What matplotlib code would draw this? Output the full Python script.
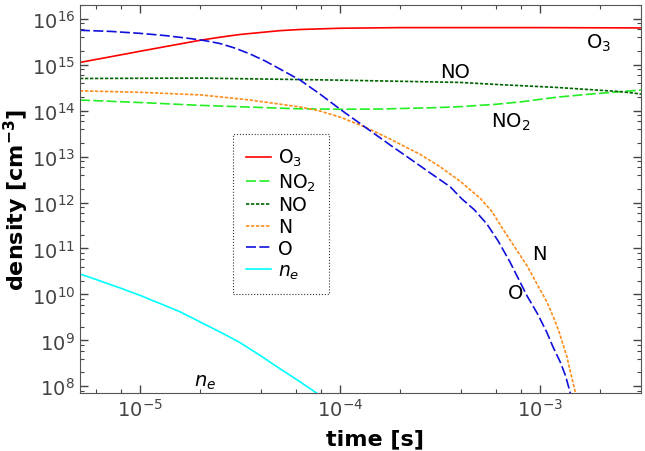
import matplotlib
matplotlib.use("Agg")
import matplotlib.pyplot as plt
from matplotlib.ticker import LogLocator, NullFormatter

# ---- data ----
t_O3 = [5e-6, 7.08e-6, 1e-5, 1.41e-5, 2e-5, 2.51e-5, 3.16e-5, 3.98e-5, 5.01e-5, 6.31e-5,
        1e-4, 2e-4, 1e-3, 3.2e-3]
n_O3 = [1.12e15, 1.48e15, 1.96e15, 2.58e15, 3.4e15, 3.96e15, 4.54e15, 5.0e15, 5.5e15, 5.83e15,
        6.2e15, 6.4e15, 6.4e15, 6.3e15]

t_NO2 = [5e-6, 1e-5, 2e-5, 4e-5, 6e-5, 1e-4, 1.5e-4, 2e-4, 3e-4, 4e-4, 6.1e-4, 8e-4,
         1.2e-3, 1.8e-3, 2.5e-3, 3.2e-3]
n_NO2 = [1.7e14, 1.5e14, 1.3e14, 1.17e14, 1.1e14, 1.07e14, 1.08e14, 1.11e14, 1.16e14, 1.22e14,
         1.38e14, 1.55e14, 1.95e14, 2.3e14, 2.57e14, 2.8e14]

t_NO = [5e-6, 2e-5, 1e-4, 4e-4, 6.1e-4, 1.2e-3, 2.5e-3, 3.2e-3]
n_NO = [5.0e14, 5.1e14, 4.6e14, 4.1e14, 3.7e14, 3.2e14, 2.6e14, 2.3e14]

t_N = [5e-6, 1e-5, 2e-5, 3.55e-5, 6.31e-5, 7.94e-5, 1e-4, 1.33e-4, 1.78e-4, 2.51e-4,
       3.16e-4, 3.98e-4, 5.01e-4, 5.75e-4, 6.53e-4, 8.6e-4, 1.08e-3, 1.18e-3, 1.24e-3,
       1.3e-3, 1.36e-3, 1.42e-3, 1.5e-3, 1.55e-3]
n_N = [2.7e14, 2.5e14, 2.2e14, 1.7e14, 1.2e14, 9.8e13, 7.2e13, 4.4e13, 2.4e13, 1.12e13,
       6.0e12, 2.9e12, 1.25e12, 6.3e11, 2.6e11, 4.2e10, 6.9e9, 2.8e9, 1.6e9,
       8.3e8, 4.5e8, 2.0e8, 7.4e7, 4e7]

t_O = [5e-6, 7.08e-6, 1e-5, 1.33e-5, 1.78e-5, 2.11e-5, 2.51e-5, 2.99e-5, 3.55e-5, 4.22e-5,
       5.01e-5, 6.31e-5, 7.94e-5, 1e-4, 1.33e-4, 1.78e-4, 2.24e-4, 2.82e-4, 3.55e-4, 4.06e-4,
       4.68e-4, 5.42e-4, 6.17e-4, 7.08e-4, 8.6e-4, 9.7e-4, 1.08e-3, 1.16e-3, 1.26e-3,
       1.34e-3, 1.41e-3, 1.46e-3]
n_O = [5.6e15, 5.3e15, 4.8e15, 4.3e15, 3.7e15, 3.33e15, 2.88e15, 2.28e15, 1.7e15, 1.2e15,
       8.0e14, 4.6e14, 2.28e14, 1.07e14, 4.4e13, 1.78e13, 8.9e12, 4.4e12, 2.2e12, 1.2e12,
       7.0e11, 3.4e11, 1.45e11, 5e10, 9.3e9, 3.8e9, 1.5e9, 7.2e8, 3.4e8,
       1.7e8, 7.6e7, 4e7]

t_ne = [5e-6, 6.31e-6, 7.94e-6, 1e-5, 1.26e-5, 1.58e-5, 2e-5, 2.51e-5, 3.16e-5, 3.98e-5,
        5.01e-5, 6.31e-5, 7.59e-5, 8.4e-5]
n_ne = [2.79e10, 1.96e10, 1.38e10, 9.5e9, 6.3e9, 4.2e9, 2.5e9, 1.52e9, 8.9e8, 4.7e8,
        2.4e8, 1.25e8, 7.2e7, 5e7]

labels = ["O$_3$", "NO$_2$", "NO", "N", "O", "$n_e$"]
y_ticks = [1e8, 1e9, 1e10, 1e11, 1e12, 1e13, 1e14, 1e15, 1e16]
x_ticks = [1e-5, 1e-4, 1e-3]

# ---- figure ----
fig = plt.figure(figsize=(6.45, 4.52), dpi=100)
ax = fig.add_axes([0.124, 0.128, 0.870, 0.859])

lw = 1.2
ax.plot(t_O3, n_O3, color="red", lw=lw, ls="-", label=labels[0])
ax.plot(t_NO2, n_NO2, color="#22ee22", lw=lw, ls=(0, (6, 2)), label=labels[1])
ax.plot(t_NO, n_NO, color="darkgreen", lw=lw, ls=(0, (2, 1)), label=labels[2])
ax.plot(t_N, n_N, color="#ff8c1a", lw=lw, ls=(0, (2, 1)), label=labels[3])
ax.plot(t_O, n_O, color="#1010dd", lw=lw, ls=(0, (6, 2)), label=labels[4])
ax.plot(t_ne, n_ne, color="cyan", lw=lw, ls="-", label=labels[5])

ax.set_xscale("log")
ax.set_yscale("log")
ax.set_xlim(5e-6, 3.2e-3)
ax.set_ylim(7.1e7, 2e16)

ax.set_xticks(x_ticks)
ax.set_yticks(y_ticks)
ax.xaxis.set_minor_locator(LogLocator(base=10, subs=(2, 4, 6, 8), numticks=20))
ax.yaxis.set_minor_locator(LogLocator(base=10, subs=(2, 4, 6, 8), numticks=20))
ax.xaxis.set_minor_formatter(NullFormatter())
ax.yaxis.set_minor_formatter(NullFormatter())

tick_col = "#444444"
ax.tick_params(which="both", direction="in", top=True, right=True,
               colors=tick_col, labelsize=14)
ax.tick_params(which="major", length=6, width=1)
ax.tick_params(which="minor", length=3, width=0.8)
for s in ax.spines.values():
    s.set_color("#555555")

ax.set_xlabel("time [s]", fontsize=16, fontweight="bold")
ax.xaxis.set_label_coords(0.525, -0.09)
ax.set_ylabel("density [cm$^{\\mathbf{-3}}$]", fontsize=16, fontweight="bold")
ax.yaxis.set_label_coords(-0.087, 0.5)

# annotations
fs_a = 14
ax.text(1.95e-3, 3.1e15, "O$_3$", fontsize=fs_a, ha="center", va="center")
ax.text(3.76e-4, 7.2e14, "NO", fontsize=fs_a, ha="center", va="center")
ax.text(7.1e-4, 5.9e13, "NO$_2$", fontsize=fs_a, ha="center", va="center")
ax.text(9.9e-4, 7.6e10, "N", fontsize=fs_a, ha="center", va="center")
ax.text(7.5e-4, 1.1e10, "O", fontsize=fs_a, ha="center", va="center")
ax.text(2.1e-5, 1.26e8, "$n_e$", fontsize=fs_a, ha="center", va="center")

leg = ax.legend(loc="upper left", bbox_to_anchor=(0.2727, 0.6675), borderaxespad=0,
                fontsize=13.5, frameon=True, fancybox=False, handlelength=1.33,
                borderpad=0.7, labelspacing=0.15, handletextpad=0.37)
fr = leg.get_frame()
fr.set_edgecolor("black")
fr.set_linestyle(":")
fr.set_linewidth(0.8)

fig.savefig("out.png", dpi=100)
